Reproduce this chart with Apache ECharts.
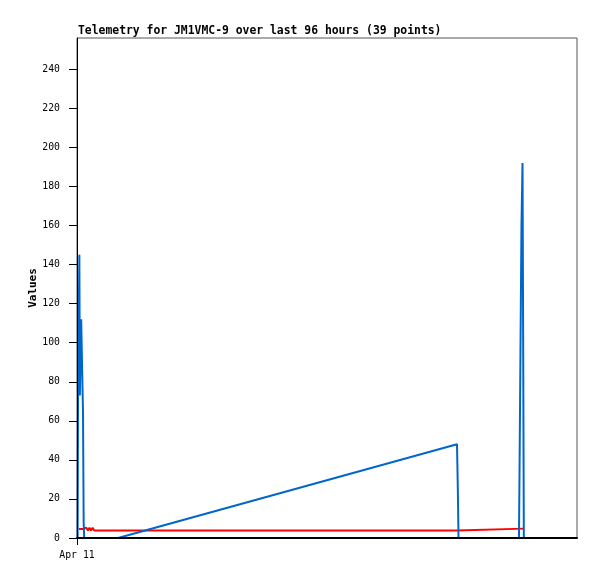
<!DOCTYPE html>
<html>
<head>
<meta charset="utf-8">
<script src="https://cdn.jsdelivr.net/npm/echarts@6/dist/echarts.min.js"></script>
<style>html,body{margin:0;padding:0;background:#fff}#c{width:597px;height:579px}</style>
</head>
<body>
<div id="c"></div>
<script>
// hours since Apr 11 00:00
const blueHours = [0.12, 0.2, 0.45, 0.55, 0.8, 0.95, 1.15, 1.28, 1.38, 7.87, 72.96, 73.12, 73.25, 84.86, 84.96, 85.15, 85.34, 85.54, 85.67, 85.79];
const blueVals  = [0, 73, 145, 73, 112, 112, 65, 8, 0, 0, 48, 25, 0, 0, 32, 97, 160, 192, 97, 0];
const redHours  = [0.38, 1.2, 1.5, 1.8, 2.1, 2.4, 2.7, 3.0, 3.3, 72.96, 73.05, 85.79];
const redVals   = [4.6, 4.6, 3.9, 5.3, 3.9, 5.3, 3.9, 5.3, 3.8, 3.8, 4.8, 4.8];
const yTicks = [0, 20, 40, 60, 80, 100, 120, 140, 160, 180, 200, 220, 240];
const xTickLabels = {0: 'Apr 11'};
const titleText = 'Telemetry for JM1VMC-9 over last 96 hours (39 points)';

const mono = '"DejaVu Sans Mono", monospace';
const chart = echarts.init(document.getElementById('c'));
chart.setOption({
  animation: false,
  backgroundColor: '#fff',
  title: {
    text: titleText, left: 73, top: 21,
    textStyle: {fontFamily: mono, fontSize: 11.4, fontWeight: 'bold', color: '#000'}
  },
  grid: {left: 77, right: 20, top: 38, bottom: 41, show: true, borderColor: '#555', borderWidth: 1},
  xAxis: {
    type: 'value', min: 0, max: 96, z: 10,
    axisLine: {lineStyle: {color: '#000', width: 2}},
    axisTick: {customValues: [0], length: 7, lineStyle: {color: '#000'}},
    axisLabel: {customValues: [0], formatter: v => xTickLabels[v] || '', fontFamily: mono, fontSize: 9.8, color: '#000', margin: 12},
    splitLine: {show: false}
  },
  yAxis: {
    type: 'value', min: 0, max: 256, z: 10,
    name: 'Values', nameLocation: 'middle', nameGap: 38, nameMoveOverlap: false,
    nameTextStyle: {fontFamily: mono, fontSize: 11, fontWeight: 'bold', color: '#000'},
    axisLine: {show: true, lineStyle: {color: '#000', width: 1}},
    axisTick: {customValues: yTicks, length: 8, lineStyle: {color: '#000'}},
    axisLabel: {customValues: yTicks, fontFamily: mono, fontSize: 9.8, color: '#000', margin: 17},
    splitLine: {show: false}
  },
  series: [
    {type: 'line', data: redHours.map((h, i) => [h, redVals[i]]), showSymbol: false,
     lineStyle: {color: '#ff0000', width: 2}, z: 2},
    {type: 'line', data: blueHours.map((h, i) => [h, blueVals[i]]), showSymbol: false,
     lineStyle: {color: '#0066cc', width: 2}, z: 3}
  ]
});
</script>
</body>
</html>
